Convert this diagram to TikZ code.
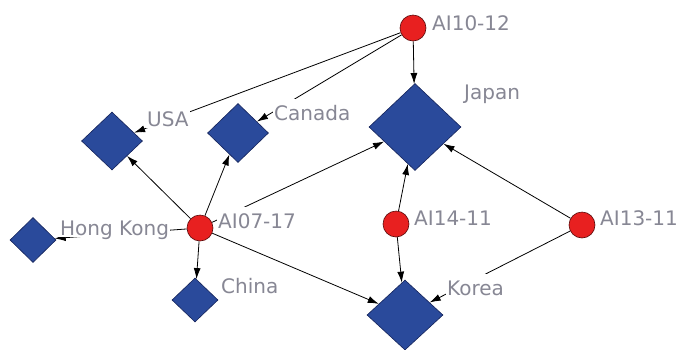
\documentclass[tikz,border=0pt]{standalone}
\usepackage{fontspec}
\setmainfont{DejaVu Sans}
\usetikzlibrary{shapes.geometric,arrows.meta,backgrounds}
\definecolor{ctryblue}{RGB}{42,74,155}
\definecolor{ctryline}{RGB}{20,35,90}
\definecolor{eventred}{RGB}{232,32,32}
\definecolor{eventline}{RGB}{90,10,10}
\definecolor{tagtext}{RGB}{135,135,148}
\tikzset{
  country/.style={diamond, draw=ctryline, fill=ctryblue, inner sep=0pt, line width=0.6pt},
  event/.style={circle, draw=eventline, fill=eventred, inner sep=0pt, minimum size=26pt, line width=0.6pt},
  tag/.style={anchor=base west, fill=white, text=tagtext, font=\fontsize{20}{24}\selectfont,
    inner xsep=1pt, inner ysep=2pt, text height=19pt, text depth=0pt},
  link/.style={-{Latex[length=11pt,width=7pt]}, line width=0.8pt}
}
\begin{document}
\begin{tikzpicture}[x=1pt,y=-1pt]
\useasboundingbox (0,0) rectangle (681,349);
\node[tag] (tUSA) at (146,126) {USA};
\node[tag] (tCanada) at (273,120) {Canada};
\node[tag] (tJapan) at (463,99) {Japan};
\node[tag] (tHK) at (59,235) {Hong Kong};
\node[tag] (tChina) at (220,293) {China};
\node[tag] (tKorea) at (446,295) {Korea};
\node[tag] (tA1012) at (431,30) {AI10-12};
\node[tag] (tA0717) at (217,228) {AI07-17};
\node[tag] (tA1411) at (413,225) {AI14-11};
\node[tag] (tA1311) at (599,225) {AI13-11};
\node[country, minimum width=61pt, minimum height=58pt] (usa) at (112,141) {};
\node[country, minimum width=61pt, minimum height=59pt] (canada) at (238,133) {};
\node[country, minimum width=46pt, minimum height=45pt] (hk) at (33,240) {};
\node[country, minimum width=46pt, minimum height=44pt] (china) at (195,300) {};
\node[country, minimum width=92pt, minimum height=87pt] (japan) at (415,127) {};
\node[country, minimum width=76pt, minimum height=70pt] (korea) at (405,315) {};
\node[event] (a1012) at (413,28) {};
\node[event] (a0717) at (200,228) {};
\node[event] (a1411) at (396,224) {};
\node[event] (a1311) at (582,225) {};
\begin{pgfonlayer}{background}
\draw[link] (a1012) -- (japan);
\draw[link] (a1012) -- (usa);
\draw[link] (a1012) -- (canada);
\draw[link] (a0717) -- (usa);
\draw[link] (a0717) -- (canada);
\draw[link] (a0717) -- (hk);
\draw[link] (a0717) -- (china);
\draw[link] (a0717) -- (japan);
\draw[link] (a0717) -- (korea);
\draw[link] (a1411) -- (japan);
\draw[link] (a1411) -- (korea);
\draw[link] (a1311) -- (japan);
\draw[link] (a1311) -- (korea);
\end{pgfonlayer}
\end{tikzpicture}
\end{document}
